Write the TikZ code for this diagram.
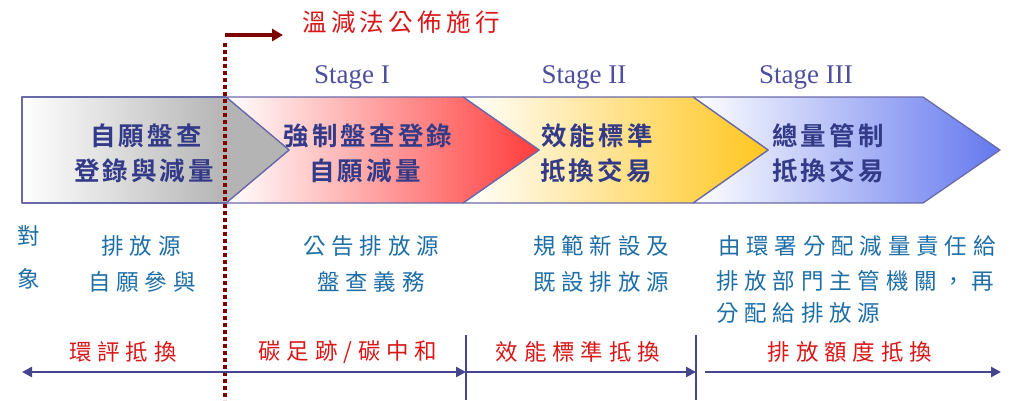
\documentclass[tikz,border=0pt]{standalone}
\usepackage{fontspec}
\usetikzlibrary{arrows.meta}
\newfontfamily\cjkb[LetterSpace=12]{Noto Sans CJK TC Bold}
\newfontfamily\cjkr[LetterSpace=26]{Noto Sans CJK TC}
\newfontfamily\cjkt[LetterSpace=18]{Noto Sans CJK TC}
\newfontfamily\stagefont{Liberation Serif}
\definecolor{outl}{HTML}{6A6AAA}
\definecolor{navy}{HTML}{333A88}
\definecolor{stagec}{HTML}{4E4E9E}
\definecolor{bluet}{HTML}{1E6EA6}
\definecolor{redt}{HTML}{D81818}
\definecolor{dotred}{HTML}{7E0000}
\definecolor{arrc}{HTML}{45458E}
\definecolor{greyc}{HTML}{B4B4B4}
\definecolor{redtip}{HTML}{FF3C3C}
\definecolor{yeltip}{HTML}{FFC61E}
\definecolor{bluetip}{HTML}{6478EE}
\tikzset{
  chev/.style={draw=outl, line width=1.3pt, line join=round},
  boldtxt/.style={text=navy, font=\cjkb\fontsize{25.5}{28}\selectfont, inner sep=0pt},
  stagetxt/.style={text=stagec, font=\stagefont\fontsize{27}{28}\selectfont, inner sep=0pt},
  bluetxt/.style={text=bluet, font=\cjkr\fontsize{22.5}{24}\selectfont, inner sep=0pt},
  redtxt/.style={text=redt, font=\cjkr\fontsize{22.5}{24}\selectfont, inner sep=0pt},
  titletxt/.style={text=redt, font=\cjkt\fontsize{24.5}{26}\selectfont, inner sep=0pt},
  timeline/.style={draw=arrc, line width=2.8pt, arrows={-Triangle[length=10pt,width=10pt]}},
  tick/.style={draw=arrc, line width=1.4pt}
}
\begin{document}
\begin{tikzpicture}[x=1pt,y=-1pt]
\useasboundingbox (0,0) rectangle (1015,400);
% chevrons
\shade[left color=white, right color=bluetip] (693,97) -- (923,97) -- (1000,150) -- (923,203) -- (693,203) -- (768,150) -- cycle;
\draw[chev] (693,97) -- (923,97) -- (1000,150) -- (923,203) -- (693,203) -- (768,150) -- cycle;
\shade[left color=white, right color=yeltip] (463,97) -- (693,97) -- (768,150) -- (693,203) -- (463,203) -- (539,150) -- cycle;
\draw[chev] (463,97) -- (693,97) -- (768,150) -- (693,203) -- (463,203) -- (539,150) -- cycle;
\shade[left color=white, right color=redtip] (226,97) -- (463,97) -- (539,150) -- (463,203) -- (226,203) -- (289,150) -- cycle;
\draw[chev] (226,97) -- (463,97) -- (539,150) -- (463,203) -- (226,203) -- (289,150) -- cycle;
\shade[left color=white, right color=greyc] (22,97) rectangle (226,203);
\fill[greyc] (225,97) -- (289,150) -- (225,203) -- cycle;
\draw[chev] (226,97) -- (22,97) -- (22,203) -- (226,203);
\draw[chev] (226,97) -- (289,150) -- (226,203);
% law line
\coordinate (dtop) at (225,43);
\coordinate (dbot) at (225,400);
\coordinate (astart) at (225,35);
\coordinate (aend) at (283,35);
\draw[dotred, line width=4pt, dash pattern=on 4pt off 3pt] (dtop) -- (dbot);
\draw[dotred, line width=4pt, -{Triangle[length=11pt,width=12pt]}] (astart) -- (aend);
\node[titletxt, anchor=west] (title) at (302,22) {溫減法公佈施行};
% stage labels
\node[stagetxt] (s1) at (352,77) {Stage I};
\node[stagetxt] (s2) at (584,77) {Stage II};
\node[stagetxt] (s3) at (806,77) {Stage III};
% chevron texts
\node[boldtxt] (c1a) at (146,136) {自願盤查};
\node[boldtxt] (c1b) at (144,171) {登錄與減量};
\node[boldtxt] (c2a) at (368,136) {強制盤查登錄};
\node[boldtxt] (c2b) at (365,171) {自願減量};
\node[boldtxt] (c3a) at (597,136) {效能標準};
\node[boldtxt] (c3b) at (596,171) {抵換交易};
\node[boldtxt] (c4a) at (828,136) {總量管制};
\node[boldtxt] (c4b) at (828,171) {抵換交易};
% target texts
\node[bluetxt] (dui) at (29,236) {對};
\node[bluetxt] (xiang) at (29,279) {象};
\node[bluetxt] (t1a) at (141,246) {排放源};
\node[bluetxt] (t1b) at (142,282) {自願參與};
\node[bluetxt] (t2a) at (371,246) {公告排放源};
\node[bluetxt] (t2b) at (371,282) {盤查義務};
\node[bluetxt] (t3a) at (601,246) {規範新設及};
\node[bluetxt] (t3b) at (601,282) {既設排放源};
\node[bluetxt, anchor=west] (t4a) at (718,246) {由環署分配減量責任給};
\node[bluetxt, anchor=west] (t4b) at (716,281) {排放部門主管機關，再};
\node[bluetxt, anchor=west] (t4c) at (716,313) {分配給排放源};
% offset texts
\node[redtxt] (r1) at (123,352) {環評抵換};
\node[redtxt] (r2) at (348,352) {碳足跡/碳中和};
\node[redtxt] (r3) at (578,352) {效能標準抵換};
\node[redtxt] (r4) at (850,352) {排放額度抵換};
% timeline
\coordinate (l0) at (22,372);
\coordinate (l1) at (466,372);
\coordinate (l2) at (696,372);
\coordinate (l3) at (705,372);
\coordinate (l4) at (1001,372);
\coordinate (k1t) at (466,335);
\coordinate (k1b) at (466,400);
\coordinate (k2t) at (696,335);
\coordinate (k2b) at (696,400);
\draw[timeline, arrows={Triangle[length=10pt,width=10pt]-Triangle[length=10pt,width=10pt]}] (l0) -- (l1);
\draw[timeline] (l1) -- (l2);
\draw[timeline] (l3) -- (l4);
\draw[tick] (k1t) -- (k1b);
\draw[tick] (k2t) -- (k2b);
\end{tikzpicture}
\end{document}
